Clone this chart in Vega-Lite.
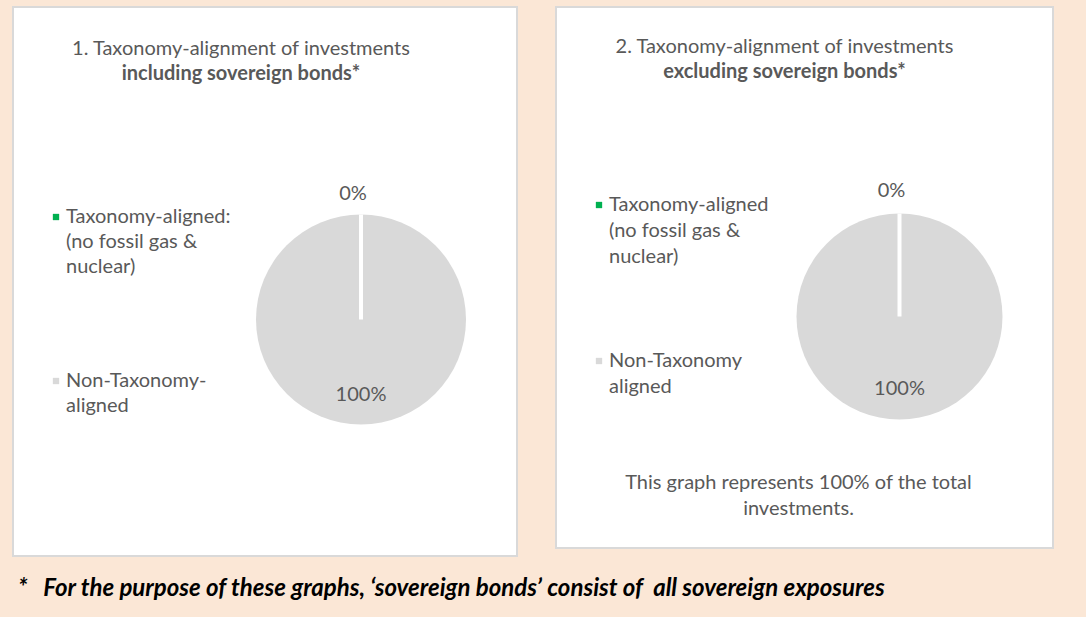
{
  "$schema": "https://vega.github.io/schema/vega-lite/v6.json",
  "background": "#FBE7D6",
  "padding": {"left": 12, "top": 6, "right": 34, "bottom": 19},
  "config": {
    "view": {"fill": "white", "stroke": "#D9D9D9", "strokeWidth": 2},
    "style": {"cell": {"fill": "white", "stroke": "#D9D9D9", "strokeWidth": 2}},
    "font": "Lato"
  },
  "datasets": {
    "pies": [
      {"panel": 1, "category": "Taxonomy-aligned: (no fossil gas & nuclear)", "value": 0, "label": "0%"},
      {"panel": 1, "category": "Non-Taxonomy-aligned", "value": 100, "label": "100%"},
      {"panel": 2, "category": "Taxonomy-aligned (no fossil gas & nuclear)", "value": 0, "label": "0%"},
      {"panel": 2, "category": "Non-Taxonomy aligned", "value": 100, "label": "100%"}
    ]
  },
  "title": {
    "text": "*\u00a0\u00a0\u00a0For the purpose of these graphs, ‘sovereign bonds’ consist of\u00a0 all sovereign exposures",
    "orient": "bottom", "anchor": "start", "offset": 20, "dx": 6,
    "fontSize": 24, "fontStyle": "italic", "fontWeight": "bold", "color": "#000000", "font": "Lato"
  },
  "spacing": 37,
  "resolve": {"scale": {"color": "independent", "theta": "independent"}, "legend": {"color": "independent"}},
  "hconcat": [
    {
      "width": 504, "height": 549,
      "view": {"fill": "white", "stroke": "#D9D9D9", "strokeWidth": 2},
      "data": {"name": "pies"},
      "transform": [{"filter": "datum.panel == 1"}],
      "title": {
        "text": "1. Taxonomy-alignment of investments", "subtitle": "including sovereign bonds*",
        "anchor": "middle", "dx": -24, "offset": -77,
        "font": "Lato", "fontSize": 20, "fontWeight": "normal", "color": "#595959",
        "subtitleFont": "Lato", "subtitleFontSize": 20, "subtitleFontWeight": "bold", "subtitleColor": "#595959", "subtitlePadding": 5
      },
      "layer": [
        {
          "mark": {"type": "arc", "outerRadius": 105, "xOffset": 96, "yOffset": 38},
          "encoding": {
            "theta": {"field": "value", "type": "quantitative", "stack": true},
            "color": {
              "field": "category", "type": "nominal",
              "scale": {"domain": ["Taxonomy-aligned: (no fossil gas & nuclear)", "Non-Taxonomy-aligned"], "range": ["#00B050", "#D9D9D9"]},
              "legend": {
                "orient": "none", "legendX": 33, "legendY": 200, "title": null,
                "symbolType": "square", "symbolSize": 40, "symbolStrokeWidth": 0,
                "labelFont": "Lato", "labelFontSize": 20, "labelColor": "#595959", "labelLimit": 0, "labelOffset": 0, "rowPadding": 94,
                "labelBaseline": "top",
                "labelExpr": "datum.value == 'Non-Taxonomy-aligned' ? ['Non-Taxonomy-', 'aligned'] : ['Taxonomy-aligned:', '(no fossil gas &', 'nuclear)']",
                "encoding": {"labels": {"lineHeight": {"value": 25}, "dy": {"value": -10}}}
              }
            }
          }
        },
        {
          "mark": {"type": "arc", "outerRadius": 105, "xOffset": 96, "yOffset": 38, "fillOpacity": 0, "stroke": "white", "strokeWidth": 4},
          "encoding": {
            "theta": {"field": "value", "type": "quantitative", "stack": true},
            "detail": {"field": "category"},
            "strokeOpacity": {"condition": {"test": "datum.value == 0", "value": 1}, "value": 0}
          }
        },
        {
          "mark": {"type": "text", "radius": 126, "xOffset": 88, "yOffset": 38, "font": "Lato", "fontSize": 20, "color": "#595959"},
          "encoding": {
            "theta": {"field": "value", "type": "quantitative", "stack": true},
            "detail": {"field": "category"},
            "text": {"condition": {"test": "datum.value == 0", "field": "label"}, "value": ""}
          }
        },
        {
          "mark": {"type": "text", "radius": 75, "xOffset": 96, "yOffset": 38, "font": "Lato", "fontSize": 20, "color": "#595959"},
          "encoding": {
            "theta": {"field": "value", "type": "quantitative", "stack": true},
            "detail": {"field": "category"},
            "text": {"condition": {"test": "datum.value > 0", "field": "label"}, "value": ""}
          }
        }
      ]
    },
    {
      "title": {
        "text": "2. Taxonomy-alignment of investments", "subtitle": "excluding sovereign bonds*",
        "anchor": "middle", "dx": -20, "offset": -76,
        "font": "Lato", "fontSize": 20, "fontWeight": "normal", "color": "#595959",
        "subtitleFont": "Lato", "subtitleFontSize": 20, "subtitleFontWeight": "bold", "subtitleColor": "#595959", "subtitlePadding": 5
      },
      "hconcat": [
        {
          "width": 497, "height": 541,
          "view": {"fill": "white", "stroke": "#D9D9D9", "strokeWidth": 2},
          "data": {"name": "pies"},
          "transform": [{"filter": "datum.panel == 2"}],
          "title": {
            "text": ["This graph represents 100% of the total", "investments."],
            "orient": "bottom", "anchor": "middle", "offset": -75, "dx": -6, "lineHeight": 26,
            "font": "Lato", "fontSize": 20, "fontWeight": "normal", "color": "#595959"
          },
          "layer": [
            {
              "mark": {"type": "arc", "outerRadius": 103, "xOffset": 95, "yOffset": 39},
              "encoding": {
                "theta": {"field": "value", "type": "quantitative", "stack": true},
                "color": {
                  "field": "category", "type": "nominal",
                  "scale": {"domain": ["Taxonomy-aligned (no fossil gas & nuclear)", "Non-Taxonomy aligned"], "range": ["#00B050", "#D9D9D9"]},
                  "legend": {
                    "orient": "none", "legendX": 33, "legendY": 188, "title": null,
                    "symbolType": "square", "symbolSize": 40, "symbolStrokeWidth": 0,
                    "labelFont": "Lato", "labelFontSize": 20, "labelColor": "#595959", "labelLimit": 0, "labelOffset": 0, "rowPadding": 84,
                    "labelBaseline": "top",
                    "labelExpr": "datum.value == 'Non-Taxonomy aligned' ? ['Non-Taxonomy', 'aligned'] : ['Taxonomy-aligned', '(no fossil gas &', 'nuclear)']",
                    "encoding": {"labels": {"lineHeight": {"value": 26}, "dy": {"value": -10}}}
                  }
                }
              }
            },
            {
              "mark": {"type": "arc", "outerRadius": 103, "xOffset": 95, "yOffset": 39, "fillOpacity": 0, "stroke": "white", "strokeWidth": 4},
              "encoding": {
                "theta": {"field": "value", "type": "quantitative", "stack": true},
                "detail": {"field": "category"},
                "strokeOpacity": {"condition": {"test": "datum.value == 0", "value": 1}, "value": 0}
              }
            },
            {
              "mark": {"type": "text", "radius": 126, "xOffset": 87, "yOffset": 39, "font": "Lato", "fontSize": 20, "color": "#595959"},
              "encoding": {
                "theta": {"field": "value", "type": "quantitative", "stack": true},
                "detail": {"field": "category"},
                "text": {"condition": {"test": "datum.value == 0", "field": "label"}, "value": ""}
              }
            },
            {
              "mark": {"type": "text", "radius": 72, "xOffset": 95, "yOffset": 39, "font": "Lato", "fontSize": 20, "color": "#595959"},
              "encoding": {
                "theta": {"field": "value", "type": "quantitative", "stack": true},
                "detail": {"field": "category"},
                "text": {"condition": {"test": "datum.value > 0", "field": "label"}, "value": ""}
              }
            }
          ]
        }
      ]
    }
  ]
}
